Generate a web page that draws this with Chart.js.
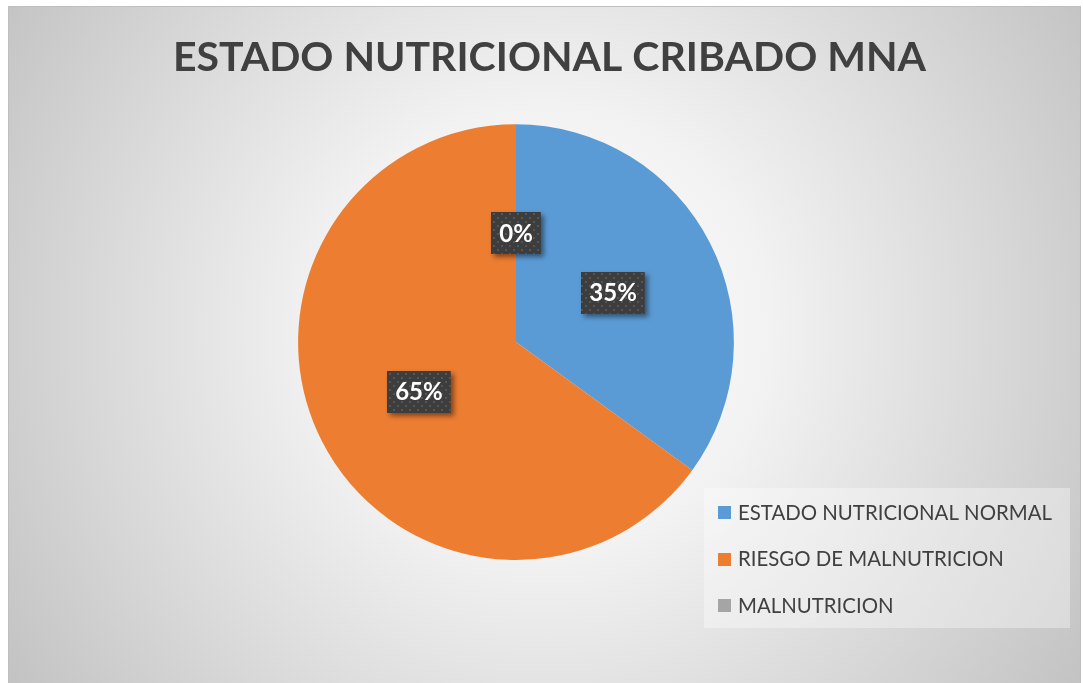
<!DOCTYPE html>
<html>
<head>
<meta charset="utf-8">
<title>Estado nutricional cribado MNA</title>
<script src="https://cdn.jsdelivr.net/npm/chart.js@4.4.1/dist/chart.umd.min.js"></script>
<style>
  html, body { margin: 0; padding: 0; background: #fff; overflow: hidden; }
  canvas { display: block; }
</style>
</head>
<body>
<canvas id="pieChart" width="1083" height="683"></canvas>
<script>
// Chart data
const categories = ['ESTADO NUTRICIONAL NORMAL', 'RIESGO DE MALNUTRICION', 'MALNUTRICION'];
const percentages = [35, 65, 0];

const sliceColors = ['#5b9bd5', '#ed7d31', '#a5a5a5'];
const textColor = '#404040';
const FONT = 'Lato, "Open Sans", "DejaVu Sans", sans-serif';

// Frame of the chart inside the page
const frame = { left: 8, top: 6, right: 1081, bottom: 683 };

// Radial grey background like the office chart style
const backgroundPlugin = {
    id: 'officeBackground',
    beforeDraw(chart) {
        const ctx = chart.ctx;
        ctx.save();
        ctx.fillStyle = '#ffffff';
        ctx.fillRect(0, 0, chart.width, chart.height);
        const grad = ctx.createRadialGradient(545, 330, 0, 545, 330, 640);
        grad.addColorStop(0, '#ffffff');
        grad.addColorStop(0.35, '#f2f2f2');
        grad.addColorStop(1, '#c3c3c3');
        ctx.fillStyle = grad;
        ctx.fillRect(frame.left, frame.top, frame.right - frame.left, frame.bottom - frame.top);
        ctx.strokeStyle = '#bfbfbf';
        ctx.lineWidth = 1;
        ctx.strokeRect(frame.left + 0.5, frame.top + 0.5, frame.right - frame.left - 1, frame.bottom - frame.top);
        ctx.restore();
    }
};

// Empty box on the right so the pie sits a bit left of the title centre
const spacerPlugin = {
    id: 'rightSpacer',
    beforeInit(chart) {
        Chart.layouts.addBox(chart, {
            position: 'right',
            weight: 0,
            fullSize: false,
            options: {},
            isHorizontal() { return false; },
            update(maxWidth, maxHeight) {
                this.width = 67;
                this.height = maxHeight;
            },
            draw() {}
        });
    }
};

// Small dotted pattern for the label boxes
function makeDotPattern(ctx) {
    const tile = document.createElement('canvas');
    tile.width = 8;
    tile.height = 8;
    const t = tile.getContext('2d');
    t.fillStyle = '#3d3d3d';
    t.fillRect(0, 0, 8, 8);
    t.fillStyle = '#555555';
    t.fillRect(1, 1, 2, 2);
    t.fillRect(5, 5, 2, 2);
    return ctx.createPattern(tile, 'repeat');
}

// Percent labels in dark boxes at the middle of each slice
const dataLabelPlugin = {
    id: 'sliceLabels',
    afterDatasetsDraw(chart) {
        const ctx = chart.ctx;
        const meta = chart.getDatasetMeta(0);
        const pattern = makeDotPattern(ctx);
        ctx.save();
        ctx.font = 'bold 24px ' + FONT;
        ctx.textAlign = 'center';
        ctx.textBaseline = 'middle';
        meta.data.forEach((arc, i) => {
            const pos = arc.tooltipPosition();
            const text = percentages[i] + '%';
            const w = ctx.measureText(text).width + 16;
            const h = 42;
            const x = Math.round(pos.x - w / 2);
            const y = Math.round(pos.y - h / 2);
            ctx.save();
            ctx.shadowColor = 'rgba(0,0,0,0.45)';
            ctx.shadowBlur = 5;
            ctx.shadowOffsetX = 3;
            ctx.shadowOffsetY = 3;
            ctx.fillStyle = '#3d3d3d';
            ctx.fillRect(x, y, w, h);
            ctx.restore();
            ctx.fillStyle = pattern;
            ctx.fillRect(x, y, w, h);
            ctx.fillStyle = '#ffffff';
            ctx.fillText(text, pos.x, pos.y + 1);
        });
        ctx.restore();
    }
};

// Legend box in the lower right corner
const legendPlugin = {
    id: 'boxLegend',
    afterDraw(chart) {
        const ctx = chart.ctx;
        const box = { x: 704, y: 488, w: 366, h: 140 };
        ctx.save();
        ctx.fillStyle = 'rgba(255,255,255,0.35)';
        ctx.fillRect(box.x, box.y, box.w, box.h);
        ctx.font = '20.4px ' + FONT;
        ctx.textBaseline = 'middle';
        ctx.textAlign = 'left';
        categories.forEach((label, i) => {
            const cy = 512 + i * 46.5;
            ctx.fillStyle = sliceColors[i];
            ctx.fillRect(718, Math.round(cy - 6), 13, 13);
            ctx.fillStyle = textColor;
            ctx.fillText(label, 738, cy + 1);
        });
        ctx.restore();
    }
};

const ctx = document.getElementById('pieChart').getContext('2d');

new Chart(ctx, {
    type: 'pie',
    data: {
        labels: categories,
        datasets: [{
            data: percentages,
            backgroundColor: sliceColors,
            borderWidth: 0,
            hoverOffset: 0
        }]
    },
    options: {
        responsive: false,
        animation: false,
        events: [],
        layout: {
            // title spans 24..1075, chart area 24..1008 (center x 516), 124..560 high (radius 218)
            padding: { left: 24, right: 8, top: 0, bottom: 123 }
        },
        plugins: {
            legend: { display: false },
            tooltip: { enabled: false },
            title: {
                display: true,
                text: 'ESTADO NUTRICIONAL CRIBADO MNA',
                color: textColor,
                font: { family: FONT, size: 41, weight: 'bold', lineHeight: 1.2 },
                padding: { top: 33, bottom: 42 }
            }
        }
    },
    plugins: [backgroundPlugin, spacerPlugin, dataLabelPlugin, legendPlugin]
});
</script>
</body>
</html>
